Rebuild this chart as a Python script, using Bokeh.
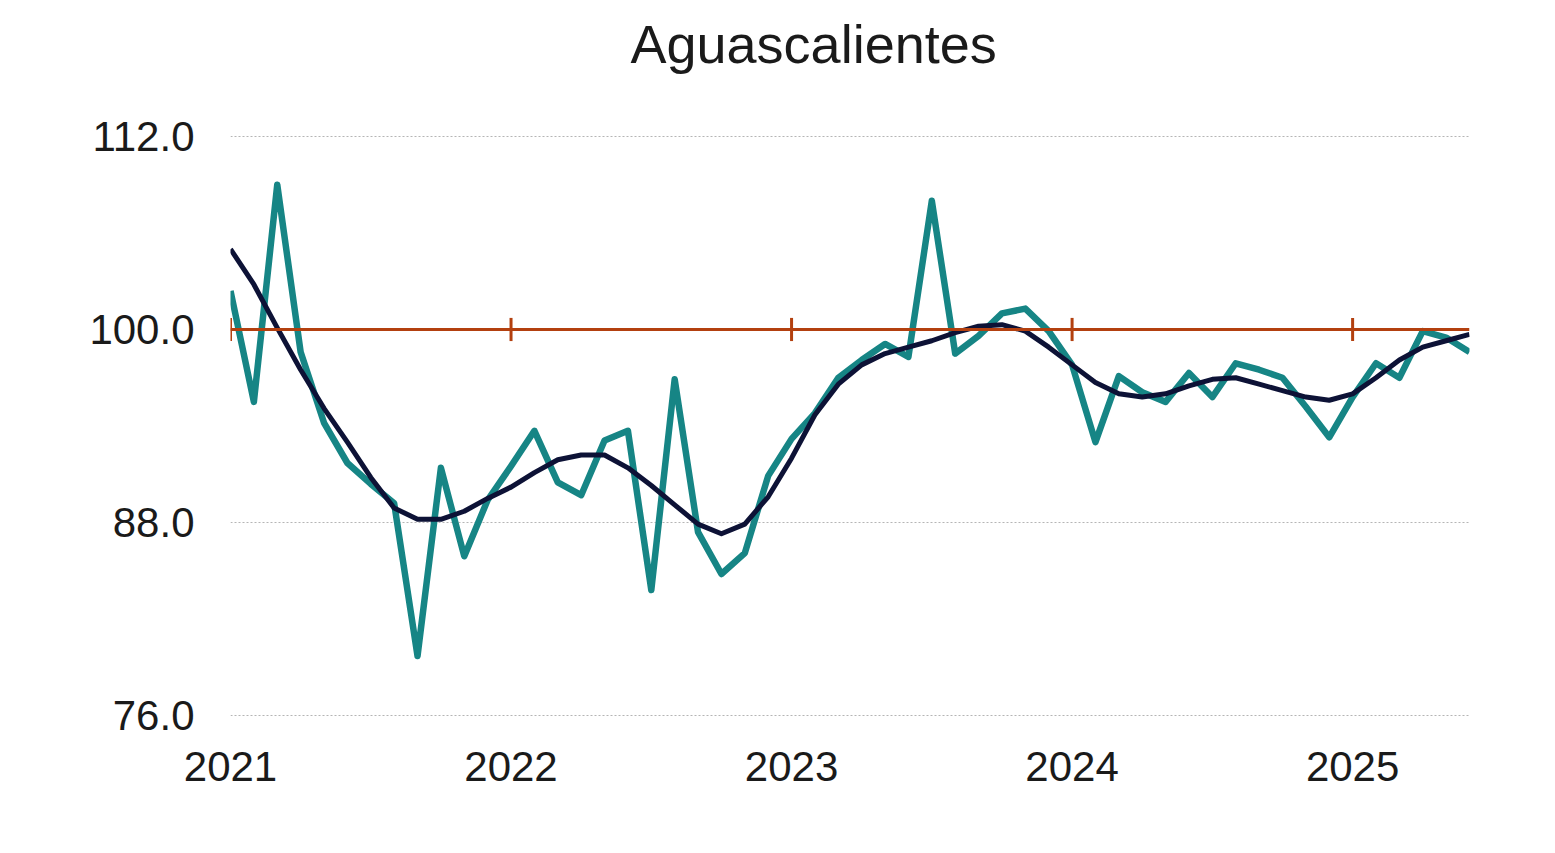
from bokeh.plotting import figure
from bokeh.models import Range1d, FixedTicker, Span, Title
from bokeh.embed import file_html
from bokeh.resources import INLINE

# Monthly index, Jan 2021 .. Jun 2025
actual = [102.4, 95.5, 109.0, 98.6, 94.2, 91.7, 90.4, 89.2, 79.7, 91.4, 85.9, 89.4,
          91.5, 93.7, 90.5, 89.7, 93.1, 93.7, 83.8, 96.9, 87.4, 84.8, 86.1, 90.9,
          93.2, 94.8, 97.0, 98.1, 99.1, 98.3, 108.0, 98.5, 99.6, 101.0, 101.3, 99.9,
          97.8, 93.0, 97.1, 96.1, 95.5, 97.3, 95.8, 97.9, 97.5, 97.0, 95.2, 93.3,
          95.8, 97.9, 97.0, 99.9, 99.5, 98.6]
trend = [105.0, 102.8, 100.1, 97.5, 95.1, 93.0, 90.8, 88.9, 88.2, 88.2, 88.7, 89.5,
         90.2, 91.1, 91.9, 92.2, 92.2, 91.4, 90.3, 89.1, 87.9, 87.3, 87.9, 89.6,
         92.0, 94.7, 96.6, 97.8, 98.5, 98.9, 99.3, 99.8, 100.2, 100.3, 99.9, 98.9,
         97.8, 96.7, 96.0, 95.8, 96.0, 96.5, 96.9, 97.0, 96.6, 96.2, 95.8, 95.6,
         96.0, 97.0, 98.1, 98.9, 99.3, 99.7]
years = ["2021", "2022", "2023", "2024", "2025"]
y_ticks = [76.0, 88.0, 100.0, 112.0]
baseline = 100.0
title_text = "Aguascalientes"

months = list(range(len(actual)))
year_pos = [12 * i for i in range(len(years))]

W, H = 1540, 838
p = figure(width=W, height=H, output_backend="svg", toolbar_location=None,
           x_range=Range1d(0, len(actual) - 1),
           y_range=Range1d(min(y_ticks) - 0.06, max(y_ticks) + 0.06),
           min_border_left=230, min_border_right=71, min_border_top=135, min_border_bottom=122)
p.outline_line_color = None
p.background_fill_color = "white"
p.border_fill_color = "white"

# spacer panel (innermost) then the title above it
p.add_layout(Title(text=" ", text_font_size="10px", standoff=49), "above")
p.add_layout(Title(text=title_text, align="left", offset=400, standoff=0,
                   text_font="Liberation Sans", text_font_size="54px",
                   text_font_style="normal", text_color="#1a1a1a"), "above")

# grid
p.xgrid.visible = False
p.ygrid.ticker = FixedTicker(ticks=y_ticks)
p.ygrid.grid_line_color = "#b5b5b5"
p.ygrid.grid_line_dash = "2 2"
p.ygrid.grid_line_width = 1.2

# axes
p.yaxis.ticker = FixedTicker(ticks=y_ticks)
p.yaxis.major_label_overrides = {t: f"{t:.1f}" for t in y_ticks}
p.xaxis.ticker = FixedTicker(ticks=year_pos)
p.xaxis.major_label_overrides = {pos: y for pos, y in zip(year_pos, years)}
for ax in (p.xaxis[0], p.yaxis[0]):
    ax.axis_line_color = None
    ax.major_tick_line_color = None
    ax.minor_tick_line_color = None
    ax.major_label_text_font = "Liberation Sans"
    ax.major_label_text_font_size = "42px"
    ax.major_label_text_color = "#1a1a1a"
p.yaxis.major_label_standoff = 30
p.xaxis.major_label_standoff = 29

# baseline axis at 100 with crossing ticks
p.add_layout(Span(location=baseline, dimension="width", line_color="#B3400F", line_width=3))
p.segment(x0=year_pos, y0=[baseline - 0.72] * len(year_pos), x1=year_pos,
          y1=[baseline + 0.72] * len(year_pos), line_color="#B3400F", line_width=3)

p.line(months, actual, line_color="#168585", line_width=6.5, line_join="round")
p.line(months, trend, line_color="#0D1236", line_width=5, line_join="round")

open("out.html", "w").write(file_html(p, INLINE))
